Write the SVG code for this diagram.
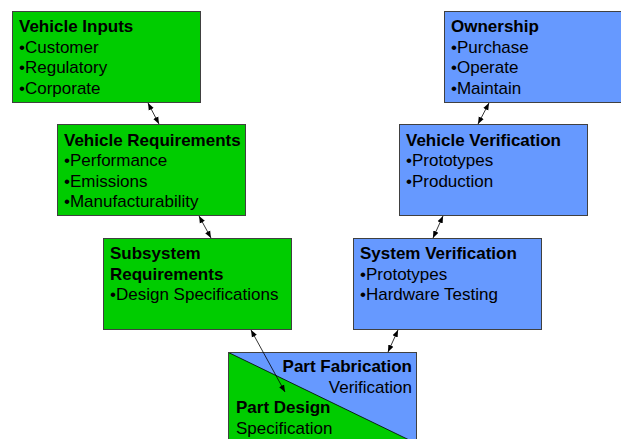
<svg xmlns="http://www.w3.org/2000/svg" width="621" height="439" viewBox="0 0 621 439">
<style>
.g{fill:#00CC00;stroke:#404040;stroke-width:1}
.b{fill:#6699FF;stroke:#404040;stroke-width:1}
text{font-family:"Liberation Sans",Arial,sans-serif;font-size:17px;fill:#000}
.t{font-weight:bold}
.c{stroke:#000;stroke-width:0.8;fill:none;marker-start:url(#ah);marker-end:url(#ah)}
</style>
<defs>
<marker id="ah" viewBox="0 0 10 10" refX="10" refY="5" markerWidth="7" markerHeight="7" markerUnits="userSpaceOnUse" orient="auto-start-reverse">
<path d="M0,1 L10,5 L0,9 Z" fill="#000"/>
</marker>
</defs>
<rect width="621" height="439" fill="#fff"/>
<g id="vehicle-inputs">
<rect class="g" x="12.5" y="11.5" width="188" height="91"/>
<text x="19" y="32" class="t">Vehicle Inputs</text>
<text x="19" y="52.5">•Customer</text>
<text x="19" y="73">•Regulatory</text>
<text x="19" y="93.5">•Corporate</text>
</g>
<g id="vehicle-requirements">
<rect class="g" x="57.5" y="124.5" width="188" height="91"/>
<text x="64" y="145.5" class="t">Vehicle Requirements</text>
<text x="64" y="166">•Performance</text>
<text x="64" y="186.5">•Emissions</text>
<text x="64" y="207">•Manufacturability</text>
</g>
<g id="subsystem-requirements">
<rect class="g" x="103.5" y="238.5" width="188" height="91"/>
<text x="110" y="259" class="t">Subsystem</text>
<text x="110" y="279.5" class="t">Requirements</text>
<text x="110" y="300">•Design Specifications</text>
</g>
<g id="ownership">
<rect class="b" x="444.5" y="11.5" width="188" height="91"/>
<text x="451" y="32" class="t">Ownership</text>
<text x="451" y="52.5">•Purchase</text>
<text x="451" y="73">•Operate</text>
<text x="451" y="93.5">•Maintain</text>
</g>
<g id="vehicle-verification">
<rect class="b" x="399.5" y="124.5" width="188" height="91"/>
<text x="406" y="145.5" class="t">Vehicle Verification</text>
<text x="406" y="166">•Prototypes</text>
<text x="406" y="186.5">•Production</text>
</g>
<g id="system-verification">
<rect class="b" x="353.5" y="238.5" width="188" height="91"/>
<text x="360" y="259" class="t">System Verification</text>
<text x="360" y="279.5">•Prototypes</text>
<text x="360" y="300">•Hardware Testing</text>
</g>
<g id="part">
<rect x="228.5" y="352.5" width="188" height="91" fill="#6699FF"/>
<polygon points="228.5,352.5 416.5,443.5 228.5,443.5" fill="#00CC00"/>
<line x1="228.5" y1="352.5" x2="416.5" y2="443.5" stroke="#000" stroke-width="0.8"/>
<rect x="228.5" y="352.5" width="188" height="91" fill="none" stroke="#404040" stroke-width="1"/>
<text x="412" y="372" class="t" text-anchor="end">Part Fabrication</text>
<text x="412" y="392.5" text-anchor="end">Verification</text>
<text x="236" y="413" class="t">Part Design</text>
<text x="236" y="433.5">Specification</text>
</g>
<g id="connectors">
<line class="c" x1="148" y1="103" x2="159" y2="124"/>
<line class="c" x1="199" y1="216" x2="211" y2="238"/>
<line class="c" x1="251" y1="330" x2="285" y2="392"/>
<line class="c" x1="489" y1="103" x2="478" y2="124"/>
<line class="c" x1="443" y1="216" x2="433" y2="238"/>
<line class="c" x1="398" y1="330" x2="388" y2="352"/>
</g>
</svg>
